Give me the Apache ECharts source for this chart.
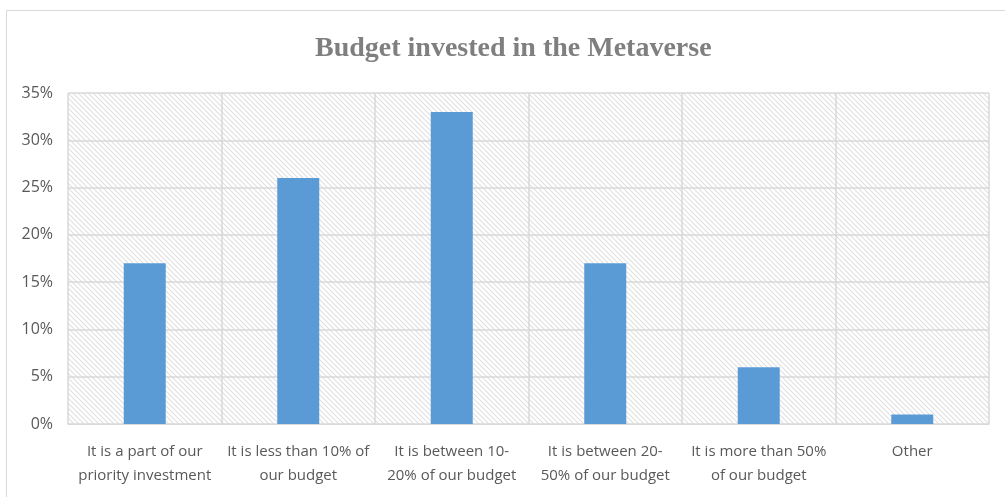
<!DOCTYPE html>
<html>
<head>
<meta charset="utf-8">
<style>
  html, body { margin: 0; padding: 0; background: #ffffff; }
  #chart { width: 1005px; height: 497px; }
</style>
<script src="https://cdn.jsdelivr.net/npm/echarts@6/dist/echarts.min.js"></script>
</head>
<body>
<div id="chart"></div>
<script>
// Survey answers: share of budget invested in the Metaverse
const categories = [
  'It is a part of our\npriority investment',
  'It is less than 10% of\nour budget',
  'It is between 10-\n20% of our budget',
  'It is between 20-\n50% of our budget',
  'It is more than 50%\nof our budget',
  'Other'
];
const shares = [17, 26, 33, 17, 6, 1];
const yTicks = { min: 0, max: 35, interval: 5 };

// Diagonal hatch used as the plot-area fill
function makeHatch() {
  const size = 5;
  const c = document.createElement('canvas');
  c.width = size; c.height = size;
  const g = c.getContext('2d');
  g.fillStyle = '#ffffff';
  g.fillRect(0, 0, size, size);
  g.strokeStyle = '#e0e0e0';
  g.lineWidth = 1.1;
  g.beginPath();
  g.moveTo(-1, -1); g.lineTo(size + 1, size + 1);
  g.moveTo(-1, size - 1); g.lineTo(1, size + 1);
  g.moveTo(size - 1, -1); g.lineTo(size + 1, 1);
  g.stroke();
  return c;
}

const labelFont = '"Liberation Sans Narrow", "Open Sans", sans-serif';
const chart = echarts.init(document.getElementById('chart'), null, { renderer: 'canvas' });

chart.setOption({
  animation: false,
  backgroundColor: '#ffffff',
  title: {
    text: 'Budget invested in the Metaverse',
    left: 310,
    top: 30,
    textStyle: {
      fontFamily: '"Liberation Serif", "DejaVu Serif", serif',
      fontWeight: 'bold',
      fontSize: 28,
      color: '#7f7f7f'
    }
  },
  graphic: [{
    type: 'rect',
    silent: true,
    shape: { x: 6.5, y: 10.5, width: 1010, height: 500 },
    style: { fill: null, stroke: '#d9d9d9', lineWidth: 1 },
    z: -1
  }],
  grid: {
    left: 68,
    right: 16,
    top: 93,
    bottom: 73,
    show: true,
    borderWidth: 0,
    backgroundColor: { image: makeHatch(), repeat: 'repeat' }
  },
  xAxis: {
    type: 'category',
    data: categories,
    boundaryGap: true,
    axisLine: { show: true, lineStyle: { color: '#d9d9d9', width: 1 } },
    axisTick: { show: false },
    splitLine: { show: true, lineStyle: { color: '#d9d9d9', width: 1.5 } },
    axisLabel: {
      interval: 0,
      margin: 16,
      color: '#595959',
      fontFamily: labelFont,
      fontSize: 15,
      lineHeight: 24,
      verticalAlign: 'top'
    }
  },
  yAxis: {
    type: 'value',
    min: yTicks.min,
    max: yTicks.max,
    interval: yTicks.interval,
    axisLine: { show: false },
    axisTick: { show: false },
    splitLine: { show: true, lineStyle: { color: '#d9d9d9', width: 1.5 } },
    axisLabel: {
      formatter: '{value}%',
      margin: 15,
      color: '#595959',
      fontFamily: labelFont,
      fontSize: 16
    }
  },
  series: [{
    type: 'bar',
    data: shares,
    barWidth: 42,
    itemStyle: { color: '#5b9bd5' }
  }]
});
</script>
</body>
</html>
